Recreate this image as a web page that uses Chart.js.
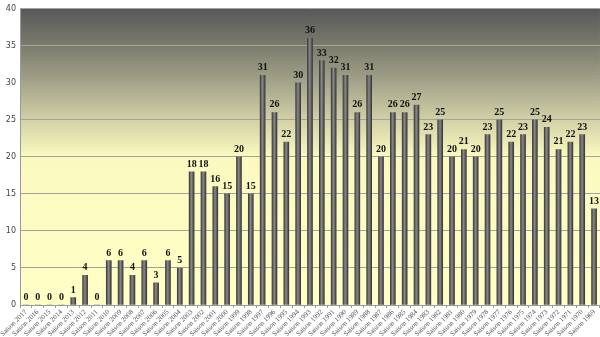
<!DOCTYPE html>
<html>
<head>
<meta charset="utf-8">
<script src="https://cdn.jsdelivr.net/npm/chart.js@4/dist/chart.umd.min.js"></script>
<style>
    html, body { margin: 0; padding: 0; background: #ffffff; }
    #wrap { width: 600px; height: 337px; position: relative; }
</style>
</head>
<body>
<div id="wrap"><canvas id="saisonChart"></canvas></div>
<script>
// 数据
const seasons = [
    'Saison 2017', 'Saison 2016', 'Saison 2015', 'Saison 2014', 'Saison 2013', 'Saison 2012', 'Saison 2011',
    'Saison 2010', 'Saison 2009', 'Saison 2008', 'Saison 2007', 'Saison 2006', 'Saison 2005', 'Saison 2004',
    'Saison 2003', 'Saison 2002', 'Saison 2001', 'Saison 2000', 'Saison 1999', 'Saison 1998', 'Saison 1997',
    'Saison 1996', 'Saison 1995', 'Saison 1994', 'Saison 1993', 'Saison 1992', 'Saison 1991', 'Saison 1990',
    'Saison 1989', 'Saison 1988', 'Saison 1987', 'Saison 1986', 'Saison 1985', 'Saison 1984', 'Saison 1983',
    'Saison 1982', 'Saison 1981', 'Saison 1980', 'Saison 1979', 'Saison 1978', 'Saison 1977', 'Saison 1976',
    'Saison 1975', 'Saison 1974', 'Saison 1973', 'Saison 1972', 'Saison 1971', 'Saison 1970', 'Saison 1969'
];
const values = [
    0, 0, 0, 0, 1, 4, 0,
    6, 6, 4, 6, 3, 6, 5,
    18, 18, 16, 15, 20, 15, 31,
    26, 22, 30, 36, 33, 32, 31,
    26, 31, 20, 26, 26, 27, 23,
    25, 20, 21, 20, 23, 25, 22,
    23, 25, 24, 21, 22, 23, 13
];
const yTicks = [0, 5, 10, 15, 20, 25, 30, 35, 40];

// 绘图区渐变背景
const plotBackground = {
    id: 'plotBackground',
    beforeDraw(chart) {
        const { ctx, chartArea } = chart;
        const h = chartArea.bottom - chartArea.top;
        const g = ctx.createLinearGradient(0, chartArea.top, 0, chartArea.bottom);
        g.addColorStop(0, '#58585a');
        g.addColorStop(0.12, '#7a7a6c');
        g.addColorStop(0.25, '#a4a48a');
        g.addColorStop(0.38, '#d4d2a8');
        g.addColorStop(0.5, '#fafac0');
        g.addColorStop(1, '#ffffc6');
        ctx.save();
        ctx.fillStyle = g;
        ctx.fillRect(chartArea.left, chartArea.top, chartArea.right - chartArea.left, h);
        ctx.restore();
    }
};

// 柱子上方的数值
const valueLabels = {
    id: 'valueLabels',
    afterDatasetsDraw(chart) {
        const { ctx } = chart;
        const meta = chart.getDatasetMeta(0);
        ctx.save();
        ctx.font = 'bold 10px "Liberation Serif", serif';
        ctx.fillStyle = '#111111';
        ctx.textAlign = 'center';
        ctx.textBaseline = 'alphabetic';
        meta.data.forEach((bar, i) => {
            ctx.fillText(values[i], bar.x, bar.y - 5);
        });
        ctx.restore();
    }
};

// 圆柱效果
function barFill(context) {
    const chart = context.chart;
    if (!chart.chartArea) return '#555555';
    const x = chart.scales.x.getPixelForValue(context.dataIndex);
    const g = chart.ctx.createLinearGradient(x - 2.5, 0, x + 2.5, 0);
    g.addColorStop(0, '#3c3c3c');
    g.addColorStop(0.45, '#8a8a8a');
    g.addColorStop(1, '#383838');
    return g;
}

const ctx = document.getElementById('saisonChart').getContext('2d');
const saisonChart = new Chart(ctx, {
    type: 'bar',
    data: {
        labels: seasons,
        datasets: [{
            data: values,
            backgroundColor: barFill,
            borderWidth: 0,
            barThickness: 5
        }]
    },
    options: {
        responsive: true,
        maintainAspectRatio: false,
        animation: false,
        layout: { padding: { top: 3, right: 0, left: 0, bottom: 0 } },
        plugins: {
            legend: { display: false },
            tooltip: { enabled: false }
        },
        scales: {
            x: {
                grid: {
                    display: true,
                    drawOnChartArea: false,
                    color: '#9a9a9a',
                    tickLength: 3,
                    offset: true
                },
                border: { color: '#9a9a9a' },
                ticks: {
                    autoSkip: false,
                    maxRotation: 45,
                    minRotation: 45,
                    padding: 0,
                    color: '#555555',
                    font: { family: '"Liberation Serif", serif', size: 7 }
                },
                afterFit(scale) { scale.height = 32; }
            },
            y: {
                min: 0,
                max: 40,
                afterBuildTicks(scale) {
                    scale.ticks = yTicks.map(v => ({ value: v }));
                },
                grid: { color: '#a3a39a', drawTicks: false },
                border: { color: '#9a9a9a' },
                ticks: {
                    padding: 4,
                    color: '#444444',
                    font: { family: '"DejaVu Sans", sans-serif', size: 8 }
                },
                afterFit(scale) { scale.width = 20; }
            }
        }
    },
    plugins: [plotBackground, valueLabels]
});
</script>
</body>
</html>
